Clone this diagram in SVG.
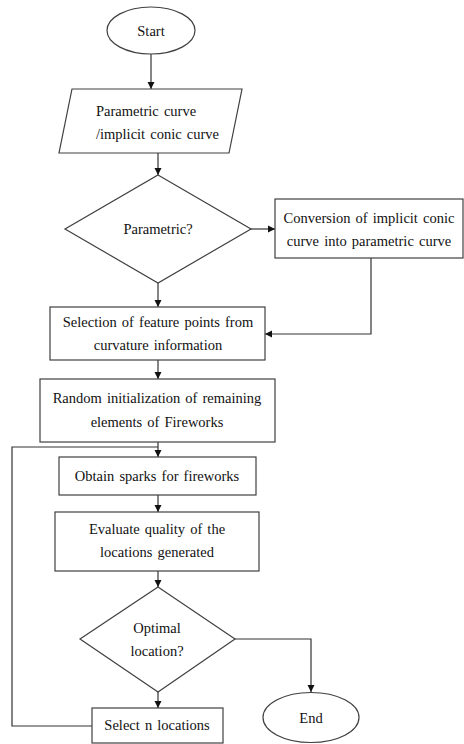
<svg xmlns="http://www.w3.org/2000/svg" width="464" height="744" viewBox="0 0 464 744">
<style>
.s{fill:#fff;stroke:#404040;stroke-width:1.2}
.c{fill:none;stroke:#333;stroke-width:1.2}
text{font-family:"Liberation Serif","Times New Roman","DejaVu Serif",serif;font-size:14.5px;fill:#111;text-anchor:middle;word-spacing:1.5px}
</style>
<defs>
<marker id="a" markerWidth="8" markerHeight="8" refX="7" refY="4" orient="auto" markerUnits="userSpaceOnUse">
<path d="M0,0.5 L7,4 L0,7.5 Z" fill="#111"/>
</marker>
</defs>
<rect width="464" height="744" fill="#fff"/>
<g id="connectors">
<path class="c" d="M151,54 V89" marker-end="url(#a)"/>
<path class="c" d="M158,153 V175" marker-end="url(#a)"/>
<path class="c" d="M251,229 H275" marker-end="url(#a)"/>
<path class="c" d="M371,258 V334 H265" marker-end="url(#a)"/>
<path class="c" d="M158,283 V307" marker-end="url(#a)"/>
<path class="c" d="M158,360 V379" marker-end="url(#a)"/>
<path class="c" d="M158,442 V457" marker-end="url(#a)"/>
<path class="c" d="M92,726 H12 V447 H158"/>
<path class="c" d="M158,495 V512" marker-end="url(#a)"/>
<path class="c" d="M158,571 V587" marker-end="url(#a)"/>
<path class="c" d="M158,692 V708" marker-end="url(#a)"/>
<path class="c" d="M235,639 H311 V692" marker-end="url(#a)"/>
</g>
<g id="start">
<ellipse class="s" cx="151" cy="30.5" rx="44" ry="23.5"/>
<text x="151" y="36">Start</text>
</g>
<g id="input">
<polygon class="s" points="72,89 242,89 229,153 59,153"/>
<text x="96" y="116" style="text-anchor:start">Parametric curve</text>
<text x="96" y="139" style="text-anchor:start">/implicit conic curve</text>
</g>
<g id="decision1">
<polygon class="s" points="158,175 251,229 158,283 65,229"/>
<text x="158" y="234">Parametric?</text>
</g>
<g id="conversion">
<rect class="s" x="275" y="199" width="188" height="59"/>
<text x="369" y="223">Conversion of implicit conic</text>
<text x="369" y="246">curve into parametric curve</text>
</g>
<g id="selection">
<rect class="s" x="50" y="307" width="215" height="53"/>
<text x="158" y="327">Selection of feature points from</text>
<text x="158" y="350">curvature information</text>
</g>
<g id="random">
<rect class="s" x="40" y="379" width="235" height="63"/>
<text x="157" y="403">Random initialization of remaining</text>
<text x="157" y="427">elements of Fireworks</text>
</g>
<g id="sparks">
<rect class="s" x="59" y="457" width="197" height="38"/>
<text x="157" y="481">Obtain sparks for fireworks</text>
</g>
<g id="evaluate">
<rect class="s" x="55" y="512" width="204" height="59"/>
<text x="157" y="534">Evaluate quality of the</text>
<text x="157" y="557">locations generated</text>
</g>
<g id="decision2">
<polygon class="s" points="158,587 235,639 158,692 80,639"/>
<text x="157" y="633">Optimal</text>
<text x="157" y="656">location?</text>
</g>
<g id="select">
<rect class="s" x="92" y="708" width="131" height="35"/>
<text x="157" y="730">Select n locations</text>
</g>
<g id="end">
<ellipse class="s" cx="311" cy="717.5" rx="48" ry="25"/>
<text x="311" y="723">End</text>
</g>
</svg>
